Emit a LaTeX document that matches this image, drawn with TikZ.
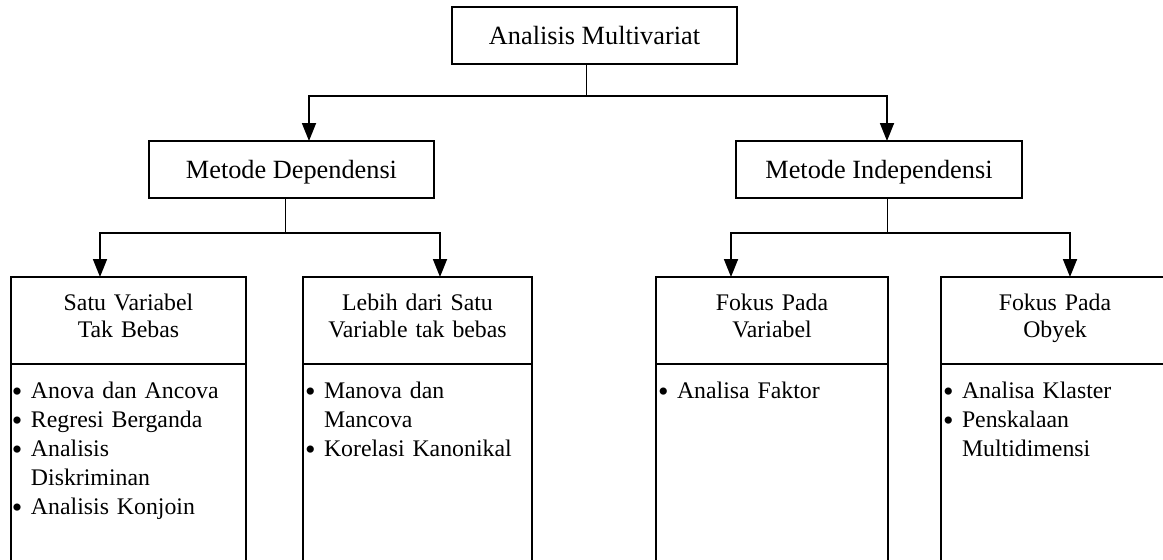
\documentclass[tikz,border=0pt]{standalone}
\usepackage{fontspec}
\setmainfont{Liberation Serif}
\usetikzlibrary{arrows.meta,calc}
\newcommand\bul{\makebox[19pt][l]{\raisebox{-3pt}{\fontsize{30}{30}\selectfont •}}}
\newcommand\ind{\hspace*{19pt}}
\begin{document}
\begin{tikzpicture}[x=1pt,y=-1pt,
  box/.style={draw, line width=1.6pt, rectangle, inner sep=0pt, outer sep=0pt, anchor=north west},
  bigtxt/.style={minimum height=57pt, font=\fontsize{26.3}{30}\selectfont, text height=17.4pt, text depth=0pt},
  hdr/.style={box, minimum height=87pt, align=center, font=\fontsize{23.8}{27.3}\selectfont, text height=16pt, text depth=37pt},
  bodybox/.style={box, minimum height=260pt},
  lst/.style={anchor=base west, inner sep=0pt, outer sep=0pt, align=left, text width=220pt, font=\fontsize{23.8}{29}\selectfont},
  stem/.style={line width=1pt},
  arr/.style={line width=1.8pt, -{Triangle[width=14pt,length=18pt]}}
]
\useasboundingbox (0,0) rectangle (1163,560);
\clip (0,0) rectangle (1163,560);
\fill[white] (0,0) rectangle (1163,560);

% top levels
\node[box, bigtxt, minimum width=285pt] (top) at (452,7) {Analisis Multivariat};
\node[box, bigtxt, minimum width=285pt] (md) at (149,141) {Metode Dependensi};
\node[box, bigtxt, minimum width=286pt] (mi) at (736,141) {Metode Independensi};

% headers
\node[hdr, minimum width=235pt, text width=225pt] (h1) at (11,277) {Satu Variabel\\Tak Bebas};
\node[hdr, minimum width=229pt, text width=220pt] (h2) at (303,277) {Lebih dari Satu\\Variable tak bebas};
\node[hdr, minimum width=232pt, text width=222pt] (h3) at (656,277) {Fokus Pada\\Variabel};
\node[hdr, minimum width=228pt, text width=220pt] (h4) at (941,277) {Fokus Pada\\Obyek};

% bodies
\node[bodybox, minimum width=235pt] (b1) at (11,364) {};
\node[bodybox, minimum width=229pt] (b2) at (303,364) {};
\node[bodybox, minimum width=232pt] (b3) at (656,364) {};
\node[bodybox, minimum width=228pt] (b4) at (941,364) {};

% lists
\node[lst] (l1) at ($(b1.north west)+(1,34)$) {\bul Anova dan Ancova\\\bul Regresi Berganda\\\bul Analisis\\\ind Diskriminan\\\bul Analisis Konjoin};
\node[lst] (l2) at ($(b2.north west)+(2,34)$) {\bul Manova dan\\\ind Mancova\\\bul Korelasi Kanonikal};
\node[lst] (l3) at ($(b3.north west)+(2,34)$) {\bul Analisa Faktor};
\node[lst] (l4) at ($(b4.north west)+(2,34)$) {\bul Analisa Klaster\\\bul Penskalaan\\\ind Multidimensi};

% connectors
\coordinate (j1) at (586,96);
\draw[stem] (j1 |- top.south) -- (j1);
\draw[arr] (j1) -| ($(md.north)+(17.5,0)$);
\draw[arr] (j1) -| ($(mi.north)+(8,0)$);

\coordinate (j2) at (285,233);
\draw[stem] (j2 |- md.south) -- (j2);
\draw[arr] (j2) -| ($(h1.north)+(-28.5,0)$);
\draw[arr] (j2) -| ($(h2.north)+(22.5,0)$);

\coordinate (j3) at (887,233);
\draw[stem] (j3 |- mi.south) -- (j3);
\draw[arr] (j3) -| ($(h3.north)+(-41,0)$);
\draw[arr] (j3) -| ($(h4.north)+(15,0)$);
\end{tikzpicture}
\end{document}
